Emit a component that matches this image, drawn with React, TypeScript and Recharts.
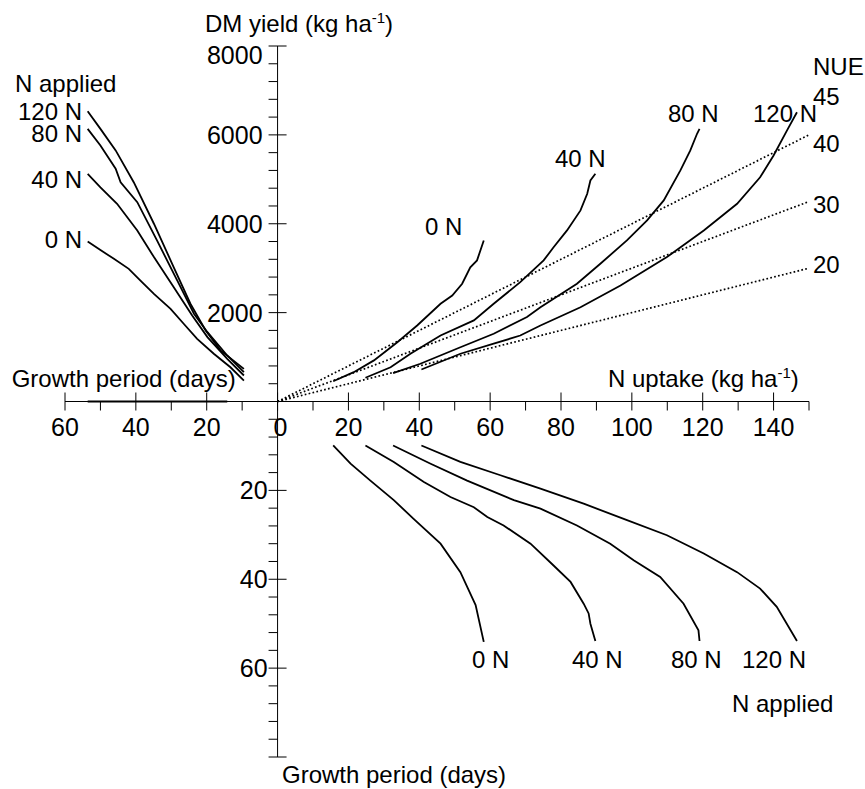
import { LineChart, Line, XAxis, YAxis, ReferenceLine } from "recharts";

const FONT = '"Liberation Sans", Arial, Helvetica, sans-serif';

// upper left: growth period (days) -> DM yield (kg/ha)
const daysYield0N: [number, number][] = [[53.6, 3600], [50, 3410], [46.2, 3210], [42, 2985], [38.7, 2720], [34.9, 2420], [30.2, 2085], [26.5, 1750], [22.7, 1410], [18, 1075], [13.3, 770], [9.5, 470]];
const daysYield40N: [number, number][] = [[53.6, 5120], [50, 4820], [45.3, 4450], [39.6, 3850], [34.9, 3250], [29.3, 2570], [24.1, 1935], [19.8, 1450], [14.2, 960], [9.5, 585]];
const daysYield80N: [number, number][] = [[53.6, 6135], [50, 5760], [45.7, 5240], [44.3, 4935], [39.6, 4485], [34, 3620], [28.3, 2720], [23.6, 1975], [19.8, 1560], [14.2, 1035], [9.5, 660]];
const daysYield120N: [number, number][] = [[53.6, 6530], [50, 6135], [45.7, 5650], [40.6, 4935], [34.9, 4000], [29.3, 3020], [24.6, 2200], [20.3, 1600], [16.1, 1150], [9.5, 735]];
const daysBaseline: [number, number][] = [[53.6, 0], [14.2, 0]];

// upper right: N uptake (kg/ha) -> DM yield (kg/ha)
const uptakeYield0N: [number, number][] = [[15.7, 455], [21.5, 660], [27.2, 925], [33.8, 1335], [39.4, 1710], [46, 2200], [49.3, 2385], [52.1, 2650], [54.4, 3020], [56.3, 3175], [58.2, 3625]];
const uptakeYield40N: [number, number][] = [[24.8, 535], [31.9, 770], [37.5, 1075], [46, 1485], [55.4, 1825], [61, 2200], [68.5, 2685], [75.1, 3175], [77.9, 3470], [81.7, 3850], [85.5, 4300], [87.4, 4675], [88.3, 4975], [89.7, 5125]];
const uptakeYield80N: [number, number][] = [[32.6, 640], [40.3, 850], [51.6, 1220], [61, 1525], [70.4, 1900], [74.2, 2120], [84.5, 2650], [91.1, 3100], [98.6, 3625], [104.3, 4075], [109, 4525], [113.7, 5200], [116.5, 5650], [118.4, 6025], [119.1, 6135]];
const uptakeYield120N: [number, number][] = [[40.6, 720], [51.6, 1075], [61, 1300], [68.5, 1485], [74.2, 1710], [85.5, 2120], [96.8, 2610], [109.9, 3250], [120.3, 3850], [129.7, 4450], [136.2, 5045], [140, 5535], [143.8, 6100], [146.6, 6510]];

// NUE reference lines (kg DM per kg N)
const nueValues = [40, 30, 20];
const nueLabels = ["45", "40", "30", "20"];
const nueMaxUptake = 150;

// lower right: N uptake (kg/ha) -> growth period (days)
const uptakeDays0N: [number, number][] = [[15.7, 9.9], [20.6, 14], [26.2, 17.8], [32.8, 22.2], [38.4, 26.4], [46, 32], [51.6, 38.4], [55.9, 45.8], [58.2, 54.1]];
const uptakeDays40N: [number, number][] = [[24.8, 9.9], [32.8, 13.6], [41.3, 18.1], [48.8, 21.5], [55.4, 23.8], [59.2, 26], [63.8, 27.9], [71.4, 32], [77.9, 36.9], [82.7, 40.6], [86.4, 45.5], [87.8, 47.7], [88.3, 50], [89.7, 53.9]];
const uptakeDays80N: [number, number][] = [[32.6, 9.9], [43.2, 14], [53.5, 17.8], [66.7, 22.2], [74.2, 24.1], [84.5, 27.9], [93.9, 32], [100.5, 35.7], [108, 39.5], [114.6, 45.5], [118.8, 51.5], [119.1, 53.9]];
const uptakeDays120N: [number, number][] = [[40.6, 9.9], [51.6, 13.6], [62.9, 16.6], [74.2, 19.6], [86.4, 23], [97.7, 26.4], [109.9, 30.1], [120.3, 34.2], [129.7, 38.4], [136.2, 42.1], [140.9, 46.2], [146.6, 53.9]];

const xTicks = Array.from({ length: 22 }, (_, i) => -60 + i * 10);
const yTicks = Array.from({ length: 41 }, (_, i) => -8000 + i * 400);

// one day on the lower axis takes the same room as 100 kg/ha of yield
const DAY = 100;

const W = 865;
const H = 789;
const M = { top: 46, right: 56, bottom: 31, left: 64 };
const X_DOMAIN = [-60, 150];
const Y_DOMAIN = [-8000, 8000];
const PW = W - M.left - 1 - M.right;
const PH = H - M.top - M.bottom - 1;
const OX = M.left + 1 + (PW * (0 - X_DOMAIN[0])) / (X_DOMAIN[1] - X_DOMAIN[0]);
const OY = M.top + (PH * Y_DOMAIN[1]) / (Y_DOMAIN[1] - Y_DOMAIN[0]);

const left = (pts: [number, number][]) => pts.map(([d, y]) => ({ x: -d, y }));
const upper = (pts: [number, number][]) => pts.map(([x, y]) => ({ x, y }));
const lower = (pts: [number, number][]) => pts.map(([x, d]) => ({ x, y: -d * DAY }));

const curves = [
  left(daysYield0N), left(daysYield40N), left(daysYield80N), left(daysYield120N),
  upper(uptakeYield0N), upper(uptakeYield40N), upper(uptakeYield80N), upper(uptakeYield120N),
  lower(uptakeDays0N), lower(uptakeDays40N), lower(uptakeDays80N), lower(uptakeDays120N),
];

const txt = { fontFamily: FONT, fontSize: 24, fill: "#000" };
const num = { fontFamily: FONT, fontSize: 25, fill: "#000" };

function XTick(props: any) {
  const { x, payload } = props;
  const v = payload.value;
  const major = v % 20 === 0;
  return (
    <g>
      <line x1={x} x2={x} y1={major ? OY - 9 : OY} y2={OY + 9} stroke="#000" strokeWidth={1} />
      {major && (
        <text x={v === 0 ? x + 3 : x} y={OY + 34.5} textAnchor="middle" {...num}>
          {Math.abs(v)}
        </text>
      )}
    </g>
  );
}

function YTick(props: any) {
  const { y, payload } = props;
  const v = payload.value;
  const major = v % 2000 === 0;
  const showLabel = major && v !== 0 && v !== Y_DOMAIN[0];
  return (
    <g>
      <line x1={OX - 9} x2={major ? OX + 9 : OX} y1={y} y2={y} stroke="#000" strokeWidth={1} />
      {showLabel && (
        <text x={v > 0 ? OX - 15 : OX - 10} y={v === Y_DOMAIN[1] ? y + 17.5 : y + 9} textAnchor="end" {...num}>
          {v > 0 ? v : -v / DAY}
        </text>
      )}
    </g>
  );
}

function Sup({ children }: { children: string }) {
  return (
    <>
      <tspan dy={-9} fontSize={15}>{children}</tspan>
      <tspan dy={9}>)</tspan>
    </>
  );
}

export default function App() {
  return (
    <div style={{ position: "absolute", left: 0, top: 0, width: W, height: H }}>
      <LineChart width={W} height={H} margin={M}>
        <XAxis
          type="number"
          dataKey="x"
          domain={X_DOMAIN}
          ticks={xTicks}
          interval={0}
          allowDataOverflow
          axisLine={false}
          tickLine={false}
          height={1}
          tick={<XTick />}
        />
        <YAxis
          type="number"
          dataKey="y"
          domain={Y_DOMAIN}
          ticks={yTicks}
          interval={0}
          allowDataOverflow
          axisLine={false}
          tickLine={false}
          width={1}
          tick={<YTick />}
        />
        <ReferenceLine x={0} stroke="#000" strokeWidth={1} />
        <ReferenceLine y={0} stroke="#000" strokeWidth={1} />

        {nueValues.map((n) => (
          <Line
            key={`nue${n}`}
            data={[{ x: 0, y: 0 }, { x: nueMaxUptake, y: n * nueMaxUptake }]}
            dataKey="y"
            type="linear"
            stroke="#000"
            strokeWidth={1.7}
            strokeDasharray="1.7 2.3"
            dot={false}
            isAnimationActive={false}
          />
        ))}
        <Line data={left(daysBaseline)} dataKey="y" type="linear" stroke="#000" strokeWidth={2} dot={false} isAnimationActive={false} />
        {curves.map((c, i) => (
          <Line key={`c${i}`} data={c} dataKey="y" type="linear" stroke="#000" strokeWidth={1.8} dot={false} isAnimationActive={false} />
        ))}

        <text x={205} y={31.5} {...txt}>
          DM yield (kg ha<Sup>-1</Sup>
        </text>
        <text x={608} y={387} {...txt}>
          N uptake (kg ha<Sup>-1</Sup>
        </text>
        <text x={11.7} y={387} {...txt}>Growth period (days)</text>
        <text x={282} y={783} {...txt}>Growth period (days)</text>

        <text x={15} y={92} {...txt}>N applied</text>
        <text x={82} y={120} textAnchor="end" {...txt}>120 N</text>
        <text x={82} y={142} textAnchor="end" {...txt}>80 N</text>
        <text x={82} y={188} textAnchor="end" {...txt}>40 N</text>
        <text x={82} y={248} textAnchor="end" {...txt}>0 N</text>

        <text x={425} y={235} {...txt}>0 N</text>
        <text x={555} y={167} {...txt}>40 N</text>
        <text x={668} y={122} {...txt}>80 N</text>
        <text x={753} y={122} {...txt}>120 N</text>

        <text x={813} y={75} {...txt}>NUE</text>
        {nueLabels.map((l, i) => (
          <text key={l} x={813} y={[105, 151.7, 213.3, 273.3][i]} {...txt}>{l}</text>
        ))}

        <text x={472} y={668} {...txt}>0 N</text>
        <text x={572} y={668} {...txt}>40 N</text>
        <text x={671} y={668} {...txt}>80 N</text>
        <text x={742} y={668} {...txt}>120 N</text>
        <text x={732} y={712} {...txt}>N applied</text>
      </LineChart>
    </div>
  );
}
